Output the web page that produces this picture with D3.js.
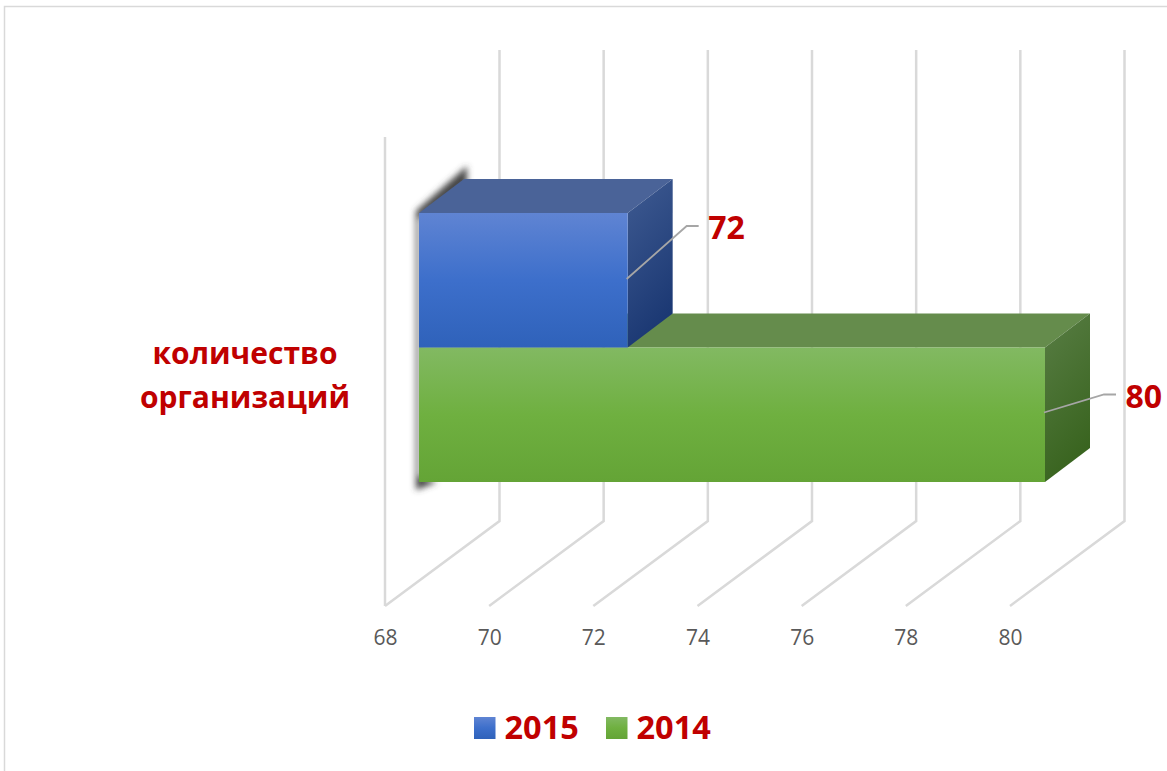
<!DOCTYPE html>
<html>
  <head>
    <meta charset="utf-8" />
    <title>количество организаций</title>
    <script src="https://d3js.org/d3.v7.min.js"></script>
    <style>
      body { margin: 0; background: #fff; }
      text { font-family: "Open Sans", sans-serif; }
    </style>
  </head>
  <body>
    <svg id="chart" width="1167" height="771"></svg>

    <script>
    var categoryLines = ["количество", "организаций"];
    var seriesNames = ["2015", "2014"];
    var seriesValues = [72, 80];
    var tickValues = [68, 70, 72, 74, 76, 78, 80];

    var red = "#c00000";
    var gridColor = "#d9d9d9";
    var depthX = 45, depthY = -34;

    var svg = d3.select("#chart");

    var faces = [
      { id: "b", front: ["#5f84d3", "#3d6fcb", "#2f62ba"], top: "#4a6398", side: ["#3f5b92", "#1b3873"] },
      { id: "g", front: ["#82b962", "#6fb040", "#64a436"], top: "#658c4c", side: ["#587d44", "#39641f"] }
    ];

    var defs = svg.append("defs");
    faces.forEach(function(f) {
      var front = defs.append("linearGradient").attr("id", f.id + "Front")
        .attr("x1", 0).attr("y1", 0).attr("x2", 0).attr("y2", 1);
      f.front.forEach(function(c, i) {
        front.append("stop").attr("offset", i / 2).attr("stop-color", c);
      });
      var side = defs.append("linearGradient").attr("id", f.id + "Side")
        .attr("x1", 0).attr("y1", 0).attr("x2", 0.3).attr("y2", 1);
      f.side.forEach(function(c, i) {
        side.append("stop").attr("offset", i).attr("stop-color", c);
      });
    });
    defs.append("filter").attr("id", "blur")
      .attr("x", "-30%").attr("y", "-30%").attr("width", "160%").attr("height", "160%")
      .append("feGaussianBlur").attr("stdDeviation", 3);

    // frame
    svg.append("path")
      .attr("d", "M4.5,771V6.5H1167")
      .attr("fill", "none")
      .attr("stroke", gridColor)
      .attr("stroke-width", 1.5);

    // walls are skewed copies of the same scale
    var x = d3.scaleLinear().domain([68, 80]).range([385, 1010]);
    var floorY = 606, backFloorY = 521, backTopY = 50;
    var wallDx = 114.5;

    svg.append("line")
      .attr("x1", x(68)).attr("x2", x(68))
      .attr("y1", 137).attr("y2", floorY)
      .attr("stroke", gridColor).attr("stroke-width", 2.5);

    svg.selectAll(".grid").data(tickValues).enter().append("path")
      .attr("class", "grid")
      .attr("d", function(d) {
        return "M" + x(d) + "," + floorY +
          "L" + (x(d) + wallDx) + "," + backFloorY +
          "V" + backTopY;
      })
      .attr("fill", "none")
      .attr("stroke", gridColor)
      .attr("stroke-width", 2.5);

    var axis = d3.axisBottom(x).tickValues(tickValues).tickSize(0).tickPadding(0);
    var axisG = svg.append("g").attr("transform", "translate(0,630)").call(axis);
    axisG.select(".domain").remove();
    axisG.selectAll("text")
      .attr("font-size", 21)
      .attr("fill", "#595959")
      .style("font-family", '"Open Sans", sans-serif');

    // bars
    var barX = d3.scaleLinear().domain([68, 80]).range([419, 1045]);
    var barY = d3.scaleBand().domain(seriesNames).range([213, 482]);
    var bars = seriesNames.map(function(name, i) {
      return { name: name, value: seriesValues[i], face: faces[i] };
    });

    // soft shadow on the left edge
    var sx = barX(68), topY = barY(seriesNames[0]), botY = barY.range()[1];
    svg.append("path")
      .attr("d", "M" + (sx - 3) + "," + (botY + 8) +
        "V" + (topY - 2) +
        "L" + (sx + depthX + 3) + "," + (topY + depthY - 13) +
        "V" + (topY + depthY + 6) +
        "L" + sx + "," + (topY + 6) +
        "V" + (botY - 6) +
        "L" + (sx + 18) + "," + botY +
        "Z")
      .attr("fill", "#444")
      .attr("filter", "url(#blur)");

    // green goes first, the blue box sits in front of its top face
    bars.slice().reverse().forEach(function(d) {
      var x0 = barX(68), x1 = barX(d.value);
      var y0 = barY(d.name), y1 = y0 + barY.bandwidth();
      var g = svg.append("g");
      g.append("path")
        .attr("d", "M" + x0 + "," + y0 + "l" + depthX + "," + depthY +
          "H" + (x1 + depthX) + "L" + x1 + "," + y0 + "Z")
        .attr("fill", d.face.top);
      g.append("path")
        .attr("d", "M" + x1 + "," + y0 + "l" + depthX + "," + depthY +
          "V" + (y1 + depthY) + "L" + x1 + "," + y1 + "Z")
        .attr("fill", "url(#" + d.face.id + "Side)");
      g.append("rect")
        .attr("x", x0).attr("y", y0)
        .attr("width", x1 - x0).attr("height", y1 - y0)
        .attr("fill", "url(#" + d.face.id + "Front)");
    });

    // leader lines and value labels
    var leaders = [{ dy0: 66, dx: 60, dy: -53 }, { dy0: 65, dx: 60, dy: -18 }];
    bars.forEach(function(d, i) {
      var l = leaders[i];
      var lx = barX(d.value) - 1, ly = barY(d.name) + l.dy0;
      svg.append("path")
        .attr("d", "M" + lx + "," + ly + "l" + l.dx + "," + l.dy + "h12")
        .attr("fill", "none")
        .attr("stroke", "#a6a6a6")
        .attr("stroke-width", 1.8);
      svg.append("text")
        .attr("x", lx + l.dx + 21.5)
        .attr("y", ly + l.dy + 13)
        .attr("font-size", 32)
        .attr("font-weight", 700)
        .attr("fill", red)
        .text(d.value);
    });

    // category label
    svg.selectAll(".cat").data(categoryLines).enter().append("text")
      .attr("class", "cat")
      .attr("x", 245)
      .attr("y", function(d, i) { return 364 + i * 44; })
      .attr("text-anchor", "middle")
      .attr("font-size", 30)
      .attr("font-weight", 700)
      .attr("fill", red)
      .text(function(d) { return d; });

    // legend
    var legendX = [474, 606];
    seriesNames.forEach(function(name, i) {
      svg.append("rect")
        .attr("x", legendX[i]).attr("y", 717)
        .attr("width", 21.5).attr("height", 22)
        .attr("fill", "url(#" + faces[i].id + "Front)");
      svg.append("text")
        .attr("x", legendX[i] + 30.5)
        .attr("y", 739)
        .attr("font-size", 32.5)
        .attr("font-weight", 700)
        .attr("fill", red)
        .text(name);
    });
    </script>
  </body>
</html>
